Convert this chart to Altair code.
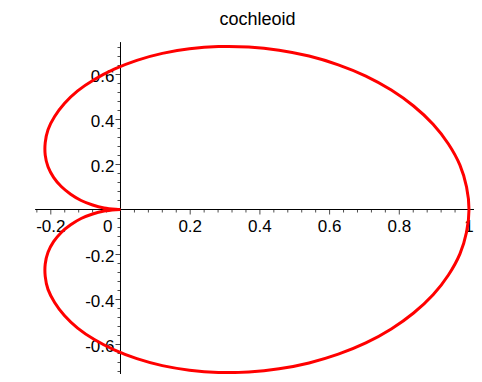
import altair as alt
import pandas as pd

title_text = "cochleoid"

# curve points read along the path (lower half, then upper half)
curve_x = [0.000, -0.013, -0.047, -0.080, -0.113, -0.143, -0.170, -0.192, -0.208, -0.216, -0.216,
           -0.208, -0.189, -0.161, -0.123, -0.075, -0.018, 0.047, 0.120, 0.198, 0.281, 0.368,
           0.455, 0.541, 0.625, 0.704, 0.777, 0.841, 0.897, 0.941, 0.974, 0.993, 1.000,
           0.993, 0.974, 0.941, 0.897, 0.841, 0.777, 0.704, 0.625, 0.541, 0.455, 0.368, 0.281,
           0.198, 0.120, 0.047, -0.018, -0.075, -0.123, -0.161, -0.189, -0.208, -0.216, -0.216,
           -0.208, -0.192, -0.170, -0.143, -0.113, -0.080, -0.047, -0.013, 0.000]
curve_y = [0.000, -0.001, -0.007, -0.020, -0.040, -0.068, -0.102, -0.143, -0.190, -0.242, -0.297,
           -0.355, -0.413, -0.471, -0.527, -0.578, -0.624, -0.663, -0.694, -0.714, -0.724, -0.722,
           -0.708, -0.682, -0.643, -0.593, -0.531, -0.460, -0.379, -0.291, -0.197, -0.100, 0.000,
           0.100, 0.197, 0.291, 0.379, 0.460, 0.531, 0.593, 0.643, 0.682, 0.708, 0.722, 0.724,
           0.714, 0.694, 0.663, 0.624, 0.578, 0.527, 0.471, 0.413, 0.355, 0.297, 0.242,
           0.190, 0.143, 0.102, 0.068, 0.040, 0.020, 0.007, 0.001, 0.000]

x_major = [-0.2, 0.2, 0.4, 0.6, 0.8, 1.0]
x_labels = ["-0.2", "0.2", "0.4", "0.6", "0.8", "1"]
x_minor = [-0.24, -0.16, -0.12, -0.08, -0.04, 0.04, 0.08, 0.12, 0.16, 0.24, 0.28, 0.32, 0.36,
           0.44, 0.48, 0.52, 0.56, 0.64, 0.68, 0.72, 0.76, 0.84, 0.88, 0.92, 0.96]
y_major = [-0.6, -0.4, -0.2, 0.2, 0.4, 0.6]
y_labels = ["-0.6", "-0.4", "-0.2", "0.2", "0.4", "0.6"]
y_minor = [-0.72, -0.68, -0.64, -0.56, -0.52, -0.48, -0.44, -0.36, -0.32, -0.28, -0.24, -0.16,
           -0.12, -0.08, -0.04, 0.04, 0.08, 0.12, 0.16, 0.24, 0.28, 0.32, 0.36, 0.44, 0.48, 0.52,
           0.56, 0.64, 0.68, 0.72]
zero_label = ["0"]

W, H = 466, 366
xs = alt.Scale(domain=[-0.32281, 1.01435], nice=False, zero=False)
ys = alt.Scale(domain=[-0.73111, 0.89556], nice=False, zero=False)
FONT = "Liberation Sans"
LBL = 17

curve_df = pd.DataFrame({"x": curve_x, "y": curve_y, "i": list(range(len(curve_x)))})
curve = alt.Chart(curve_df).mark_line(color="#FF0000", strokeWidth=3, interpolate="catmull-rom").encode(
    x=alt.X("x:Q", scale=xs, axis=None),
    y=alt.Y("y:Q", scale=ys, axis=None),
    order="i:Q",
)

one = pd.DataFrame({"a": [0]})
x_axis_line = alt.Chart(one).mark_rule(color="black", strokeWidth=1).encode(
    x=alt.XDatum(-0.245, scale=xs, axis=None),
    x2=alt.X2Datum(1.0143),
    y=alt.YDatum(0, scale=ys, axis=None),
)
y_axis_line = alt.Chart(one).mark_rule(color="black", strokeWidth=1).encode(
    x=alt.XDatum(0, scale=xs, axis=None),
    y=alt.YDatum(0.744, scale=ys, axis=None),
    y2=alt.Y2Datum(-0.7311),
)

xmaj_df = pd.DataFrame({"v": x_major, "t": x_labels})
xmin_df = pd.DataFrame({"v": x_minor})
ymaj_df = pd.DataFrame({"v": y_major, "t": y_labels})
ymin_df = pd.DataFrame({"v": y_minor})

x_major_ticks = alt.Chart(xmaj_df).mark_tick(orient="vertical", size=5, thickness=1, yOffset=2.5, color="black").encode(
    x=alt.X("v:Q", scale=xs, axis=None), y=alt.YDatum(0, scale=ys, axis=None))
x_minor_ticks = alt.Chart(xmin_df).mark_tick(orient="vertical", size=3, thickness=1, yOffset=1.5, color="black").encode(
    x=alt.X("v:Q", scale=xs, axis=None), y=alt.YDatum(0, scale=ys, axis=None))
y_major_ticks = alt.Chart(ymaj_df).mark_tick(orient="horizontal", size=5, thickness=1, xOffset=-2.5, color="black").encode(
    y=alt.Y("v:Q", scale=ys, axis=None), x=alt.XDatum(0, scale=xs, axis=None))
y_minor_ticks = alt.Chart(ymin_df).mark_tick(orient="horizontal", size=3, thickness=1, xOffset=-1.5, color="black").encode(
    y=alt.Y("v:Q", scale=ys, axis=None), x=alt.XDatum(0, scale=xs, axis=None))

x_text = alt.Chart(xmaj_df).mark_text(align="center", baseline="top", dy=9, fontSize=LBL, font=FONT, color="black").encode(
    x=alt.X("v:Q", scale=xs, axis=None), y=alt.YDatum(0, scale=ys, axis=None), text="t:N")
y_text = alt.Chart(ymaj_df).mark_text(align="right", baseline="middle", dx=-6, dy=2, fontSize=LBL, font=FONT, color="black").encode(
    y=alt.Y("v:Q", scale=ys, axis=None), x=alt.XDatum(0, scale=xs, axis=None), text="t:N")
zero_text = alt.Chart(pd.DataFrame({"t": zero_label})).mark_text(align="right", baseline="top", dx=-8, dy=9, fontSize=LBL, font=FONT, color="black").encode(
    x=alt.XDatum(0, scale=xs, axis=None), y=alt.YDatum(0, scale=ys, axis=None), text="t:N")

title = alt.Chart(pd.DataFrame({"t": [title_text]})).mark_text(align="center", baseline="middle", fontSize=18, font=FONT, color="black").encode(
    x=alt.value(249.5), y=alt.value(11.5), text="t:N")

chart = alt.layer(
    x_axis_line, y_axis_line, x_major_ticks, x_minor_ticks, y_major_ticks, y_minor_ticks,
    x_text, y_text, zero_text, curve, title
).properties(
    width=W, height=H, autosize=alt.AutoSizeParams(type="none"), padding=0
).configure_view(strokeWidth=0)

chart.save("out.html", embed_options={"renderer": "svg", "actions": False})
